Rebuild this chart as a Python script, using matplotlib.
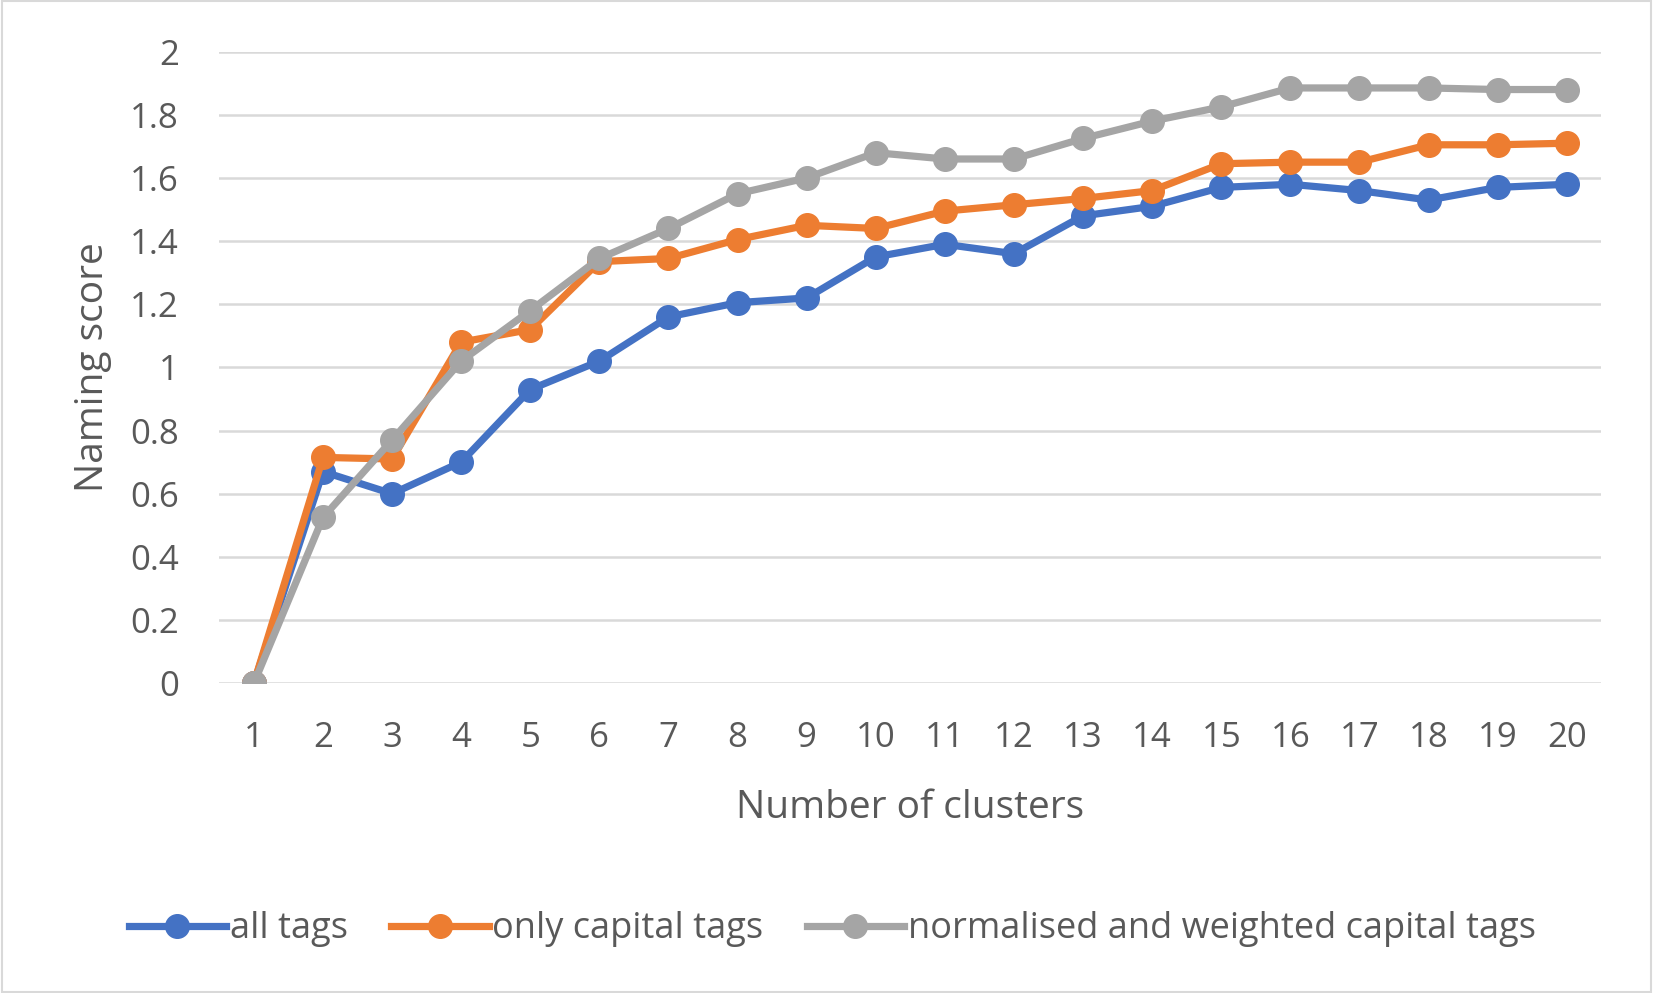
import matplotlib.pyplot as plt
from matplotlib.patches import Rectangle

clusters = list(range(1, 21))
all_tags = [0, 0.67, 0.60, 0.70, 0.93, 1.02, 1.16, 1.205, 1.22, 1.35,
            1.39, 1.36, 1.48, 1.51, 1.57, 1.58, 1.56, 1.53, 1.57, 1.58]
capital_tags = [0, 0.715, 0.71, 1.08, 1.12, 1.335, 1.345, 1.405, 1.45, 1.44,
                1.495, 1.515, 1.535, 1.56, 1.645, 1.65, 1.65, 1.705, 1.705, 1.71]
weighted_tags = [0, 0.525, 0.77, 1.02, 1.18, 1.345, 1.44, 1.55, 1.60, 1.68,
                 1.66, 1.66, 1.725, 1.78, 1.825, 1.885, 1.885, 1.885, 1.88, 1.88]
series_names = ["all tags", "only capital tags", "normalised and weighted capital tags"]
colors = ["#4472c4", "#ed7d31", "#a5a5a5"]
yticks = [0, 0.2, 0.4, 0.6, 0.8, 1, 1.2, 1.4, 1.6, 1.8, 2]

plt.rcParams["font.family"] = ["Open Sans", "DejaVu Sans"]
text_color = "#595959"

fig = plt.figure(figsize=(16.53, 9.93), dpi=100)
ax = fig.add_axes([0.1327, 0.312, 0.836, 0.636])

for vals, name, c in zip([all_tags, capital_tags, weighted_tags], series_names, colors):
    ax.plot(clusters, vals, color=c, lw=5.2, marker="o", markersize=17, label=name, zorder=3)

ax.set_xlim(0.5, 20.5)
ax.set_ylim(0, 2)
ax.set_xticks(clusters)
ax.set_yticks(yticks)
ax.set_yticklabels([f"{v:g}" for v in yticks])
ax.grid(axis="y", color="#d9d9d9", lw=1.8)
ax.set_axisbelow(True)
for s in ax.spines.values():
    s.set_visible(False)
ax.tick_params(length=0, labelsize=25, colors=text_color, pad=27)
ax.tick_params(axis="y", pad=29)
ax.set_xlabel("Number of clusters", fontsize=28, color=text_color, labelpad=25)
ax.set_ylabel("Naming score", fontsize=28, color=text_color, labelpad=13)

fig.legend(loc="center", bbox_to_anchor=(0.5035, 0.064), ncol=3, frameon=False,
           fontsize=26, labelcolor=text_color, handlelength=2.7, handletextpad=0.1,
           columnspacing=1.2)

fig.patches.append(Rectangle((0.001, 0.001), 0.998, 0.998, transform=fig.transFigure,
                             fill=False, edgecolor="#d9d9d9", lw=1.5))
fig.savefig("out.png", dpi=100, facecolor="white")
